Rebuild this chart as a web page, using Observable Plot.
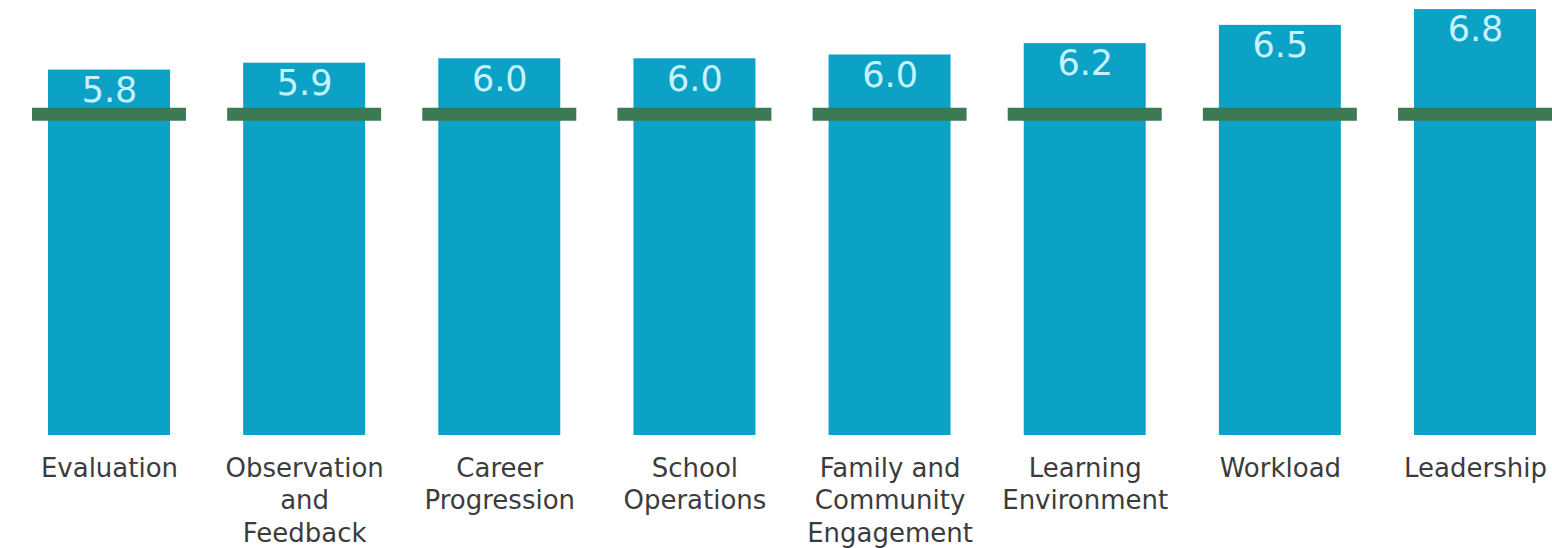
<!DOCTYPE html>
<html>
<head>
<meta charset="utf-8">
<script src="https://cdn.jsdelivr.net/npm/d3@7"></script>
<script src="https://cdn.jsdelivr.net/npm/@observablehq/plot@0.6"></script>
<style>
  html, body { margin: 0; padding: 0; background: #ffffff; }
  #chart svg { display: block; }
</style>
</head>
<body>
<div id="chart"></div>
<script>
// Categories (x axis)
const categories = ["Evaluation", "Observation and Feedback", "Career Progression", "School Operations",
  "Family and Community Engagement", "Learning Environment", "Workload", "Leadership"];
// Tick labels as wrapped in the picture
const tickLabels = ["Evaluation", "Observation\nand\nFeedback", "Career\nProgression", "School\nOperations",
  "Family and\nCommunity\nEngagement", "Learning\nEnvironment", "Workload", "Leadership"];
// Bar values (labels shown to one decimal)
const scores = [5.8, 5.91, 5.98, 5.98, 6.04, 6.22, 6.51, 6.76];
// Benchmark line value (same for all categories)
const benchmark = [5.1, 5.1, 5.1, 5.1, 5.1, 5.1, 5.1, 5.1];

const data = categories.map((c, i) => ({category: c, score: scores[i], benchmark: benchmark[i]}));
const labelOf = new Map(categories.map((c, i) => [c, tickLabels[i]]));
const fmt = d3.format(".1f");

const chart = Plot.plot({
  width: 1552,
  height: 548,
  marginTop: 0,
  marginBottom: 113,
  marginLeft: 48,
  marginRight: 16,
  style: {fontFamily: "'DejaVu Sans', sans-serif", background: "#ffffff"},
  x: {domain: categories, paddingInner: 0.375, paddingOuter: 0, round: false, label: null},
  y: {domain: [0, 435 / 63], axis: null},
  marks: [
    Plot.barY(data, {x: "category", y: "score", fill: "#0ba2c6"}),
    Plot.tickY(data, {x: "category", y: "benchmark", stroke: "#3b7a52", strokeWidth: 13,
      insetLeft: -16, insetRight: -16}),
    Plot.text(data, {x: "category", y: "score", text: d => fmt(d.score), lineAnchor: "top", dy: 7,
      fill: "#c6f3ff", fontSize: 35}),
    Plot.axisX({tickSize: 0, tickPadding: 18, fontSize: 26, lineHeight: 1.25, color: "#3c3c3c",
      tickFormat: d => labelOf.get(d), lineWidth: 100, label: null})
  ]
});
document.getElementById("chart").append(chart);
</script>
</body>
</html>
